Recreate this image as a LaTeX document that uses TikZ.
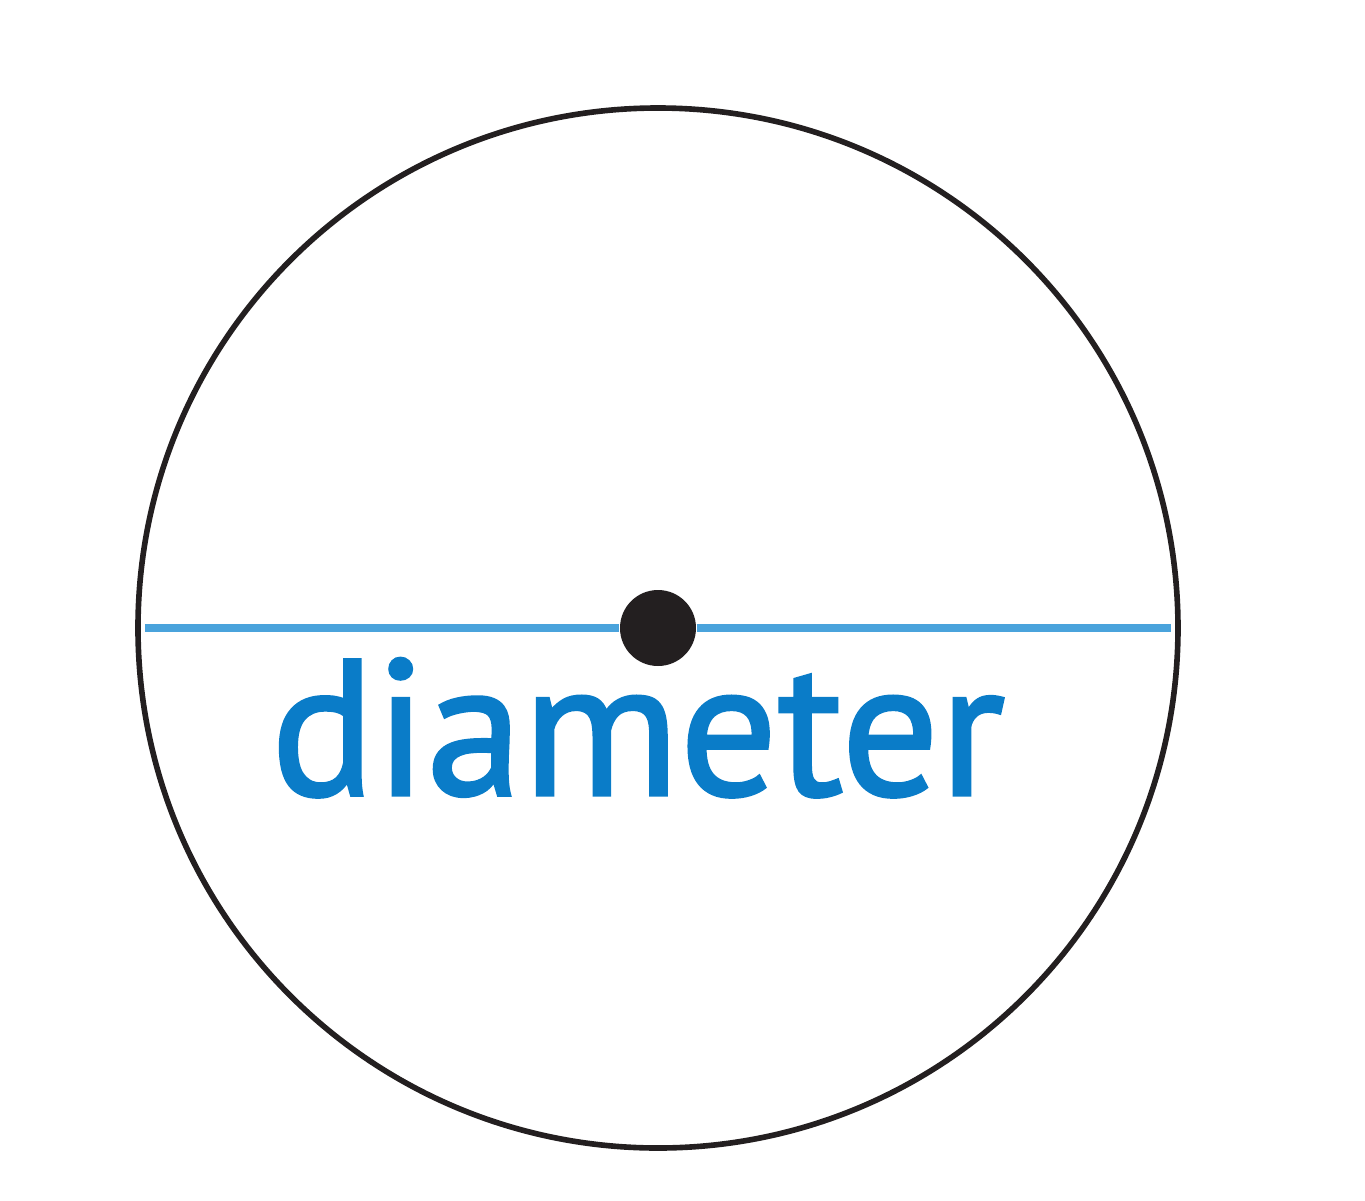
\documentclass[tikz,border=0pt]{standalone}
\usepackage{fontspec}
\setmainfont{PT Sans}
\newfontfamily\labelfont[FakeBold=1.6]{PT Sans}
\usetikzlibrary{positioning}
\definecolor{diamblue}{HTML}{4AA3DC}
\definecolor{textblue}{HTML}{0A7CC8}
\definecolor{rimgray}{HTML}{231F20}

\begin{document}
\begin{tikzpicture}
  \useasboundingbox (-6.58, -5.72) rectangle (7.07, 6.28);

  \node[circle,fill=rimgray,inner sep=0pt,minimum size=0.76cm] (O) at (0, 0) {};
  \draw[line width=1.6pt, rimgray] (O.center) circle (5.2);

  \coordinate (L) at (-5.13, 0);
  \coordinate (R) at (5.13, 0);
  \draw[line width=2pt, diamblue] (L) -- (O);
  \draw[line width=2pt, diamblue] (O) -- (R);

  \node[anchor=base, text=textblue, font=\labelfont\fontsize{55}{60}\selectfont, inner sep=0pt] (D) at (-0.2, -1.67) {diameter};
\end{tikzpicture}
\end{document}
